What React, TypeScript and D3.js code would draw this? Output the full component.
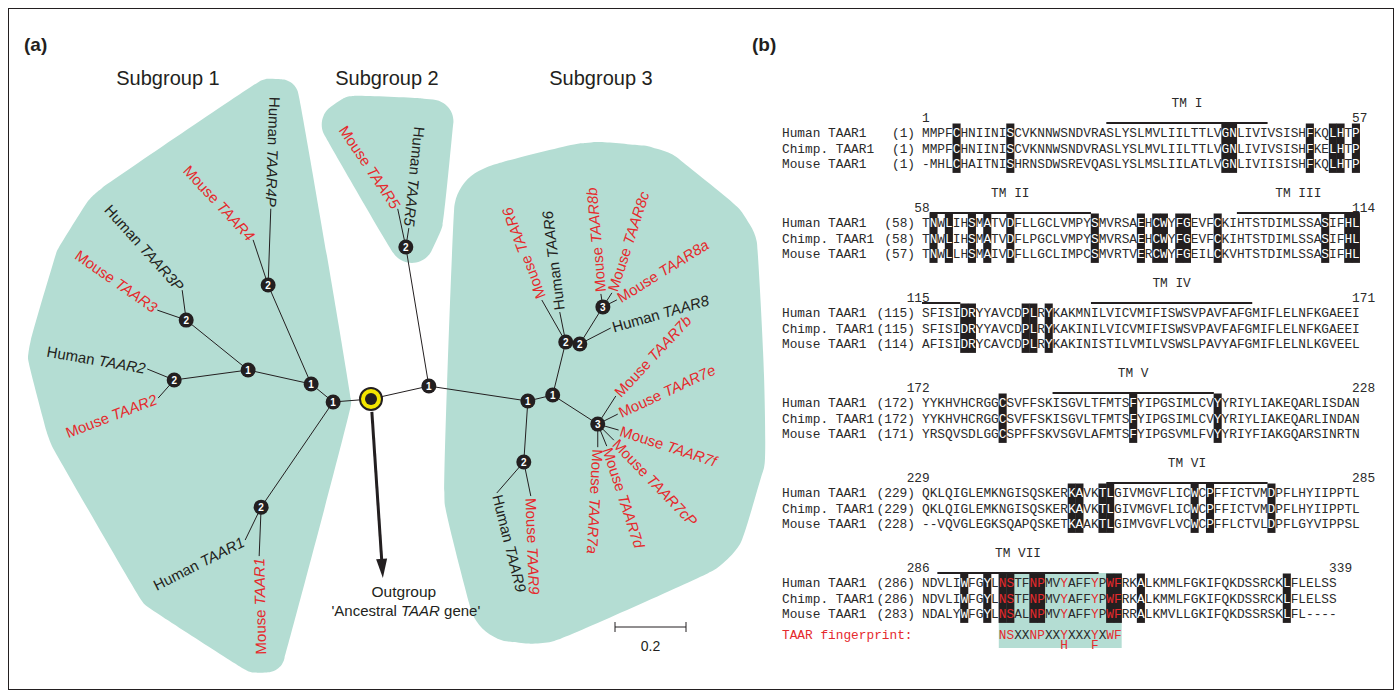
import React from "react";
import * as d3 from "d3";

// ---------- panel (a): TAAR tree ----------
// internal nodes: [id, parent, branch length, direction (deg, clockwise from east), support class]
const treeNodes: [string, string | null, number, number, number | null][] = [
  ["root", null, 0, 0, null],
  ["n1", "root", 0.107, 175.5, 1],
  ["n2", "root", 0.167, -12.6, 1],
  ["a1", "n1", 0.08, -140.7, 1],
  ["tA1", "n1", 0.359, 124.4, 2],
  ["t4", "a1", 0.304, -113.5, 2],
  ["a2", "a1", 0.182, -167.5, 1],
  ["t3", "a2", 0.224, -141.1, 2],
  ["t2", "a2", 0.21, 172.3, 2],
  ["s2", "n2", 0.397, -99.4, 2],
  ["b1", "n2", 0.282, 8.6, 1],
  ["b2", "b1", 0.072, -13.5, 1],
  ["d1", "b1", 0.172, 93.8, 2],
  ["c1", "b2", 0.154, -76.2, 2],
  ["c2", "c1", 0.04, 8.1, 2],
  ["c3", "c2", 0.123, -58.1, 3],
  ["c4", "b2", 0.151, 32.8, 3],
];

// leaves: [species, gene, parent, branch length, direction, label direction, label anchor]
const leaves: [string, string, string, number, number, number, "start" | "end"][] = [
  ["Human", "TAAR4P", "t4", 0.215, -88, 92, "end"],
  ["Mouse", "TAAR4", "t4", 0.134, -108.4, 47, "end"],
  ["Human", "TAAR3P", "t3", 0.085, -97.6, 48, "end"],
  ["Mouse", "TAAR3", "t3", 0.086, -161, 35, "end"],
  ["Human", "TAAR2", "t2", 0.082, -157.8, 10, "end"],
  ["Mouse", "TAAR2", "t2", 0.068, 131.6, -21, "end"],
  ["Human", "TAAR1", "tA1", 0.103, 115.9, -27, "end"],
  ["Mouse", "TAAR1", "tA1", 0.138, 92.3, -91, "end"],
  ["Mouse", "TAAR5", "s2", 0.11, -102, 56, "end"],
  ["Human", "TAAR5", "s2", 0.054, -81, 96, "end"],
  ["Mouse", "TAAR6", "c1", 0.136, -119.7, -111, "start"],
  ["Human", "TAAR6", "c1", 0.086, -101.3, -97, "start"],
  ["Mouse", "TAAR8b", "c3", 0.037, -98.7, -95, "start"],
  ["Mouse", "TAAR8c", "c3", 0.047, -57.3, -72, "start"],
  ["Mouse", "TAAR8a", "c3", 0.044, -26.6, -32, "start"],
  ["Human", "TAAR8", "c2", 0.098, -27.3, -16, "start"],
  ["Mouse", "TAAR7b", "c4", 0.094, -57.3, -47, "start"],
  ["Mouse", "TAAR7e", "c4", 0.063, -26.6, -25, "start"],
  ["Mouse", "TAAR7f", "c4", 0.061, 15.9, 18, "start"],
  ["Mouse", "TAAR7cP", "c4", 0.064, 45, 46, "start"],
  ["Mouse", "TAAR7d", "c4", 0.067, 67.8, 72, "start"],
  ["Mouse", "TAAR7a", "c4", 0.065, 90, 93, "start"],
  ["Mouse", "TAAR9", "d1", 0.098, 78.4, 88, "start"],
  ["Human", "TAAR9", "d1", 0.116, 131, 76, "start"],
];

const subgroupNames = ["Subgroup 1", "Subgroup 2", "Subgroup 3"];
const subgroupRoots = ["n1", "s2", "b1"];
const outgroup = { len: 0.505, ang: 86.2 };
const scaleBarValue = 0.2;

// ---------- panel (b): TAAR1 alignment ----------
const seqNames = ["Human TAAR1", "Chimp. TAAR1", "Mouse TAAR1"];
const blockStarts = [1, 58, 115, 172, 229, 286];
const blockEnds = [57, 114, 171, 228, 285, 339];
const rowStarts = [
  [1, 1, 1],
  [58, 58, 57],
  [115, 115, 114],
  [172, 172, 171],
  [229, 229, 228],
  [286, 286, 283],
];
const humanSeq = [
  "MMPFCHNIINISCVKNNWSNDVRASLYSLMVLIILTTLVGNLIVIVSISHFKQLHTP",
  "TNWLIHSMATVDFLLGCLVMPYSMVRSAEHCWYFGEVFCKIHTSTDIMLSSASIFHL",
  "SFISIDRYYAVCDPLRYKAKMNILVICVMIFISWSVPAVFAFGMIFLELNFKGAEEI",
  "YYKHVHCRGGCSVFFSKISGVLTFMTSFYIPGSIMLCVYYRIYLIAKEQARLISDAN",
  "QKLQIGLEMKNGISQSKERKAVKTLGIVMGVFLICWCPFFICTVMDPFLHYIIPPTL",
  "NDVLIWFGYLNSTFNPMVYAFFYPWFRKALKMMLFGKIFQKDSSRCKLFLELSS",
];
const chimpSeq = [
  "MMPFCHNIINISCVKNNWSNDVRASLYSLMVLIILTTLVGNLIVIVSISHFKELHTP",
  "TNWLIHSMATVDFLPGCLVMPYSMVRSAEHCWYFGEVFCKIHTSTDIMLSSASIFHL",
  "SFISIDRYYAVCDPLRYKAKINILVICVMIFISWSVPAVFAFGMIFLELNFKGAEEI",
  "YYKHVHCRGGCSVFFSKISGVLTFMTSFYIPGSIMLCVYYRIYLIAKEQARLINDAN",
  "QKLQIGLEMKNGISQSKERKAVKTLGIVMGVFLICWCPFFICTVMDPFLHYIIPPTL",
  "NDVLIWFGYLNSTFNPMVYAFFYPWFRKALKMMLFGKIFQKDSSRCKLFLELSS",
];
const mouseSeq = [
  "-MHLCHAITNISHRNSDWSREVQASLYSLMSLIILATLVGNLIVIISISHFKQLHTP",
  "TNWLLHSMAIVDFLLGCLIMPCSMVRTVERCWYFGEILCKVHTSTDIMLSSASIFHL",
  "AFISIDRYCAVCDPLRYKAKINISTILVMILVSWSLPAVYAFGMIFLELNLKGVEEL",
  "YRSQVSDLGGCSPFFSKVSGVLAFMTSFYIPGSVMLFVYYRIYFIAKGQARSINRTN",
  "--VQVGLEGKSQAPQSKETKAAKTLGIMVGVFLVCWCPFFLCTVLDPFLGYVIPPSL",
  "NDALYWFGYLNSALNPMVYAFFYPWFRRALKMVLLGKIFQKDSSRSKLFL----",
];
const tmNames = ["TM I", "TM II", "TM III", "TM IV", "TM V", "TM VI", "TM VII"];
const tmStarts = [25, 59, 99, 137, 189, 253, 288];
const tmEnds = [45, 79, 119, 157, 209, 273, 308];
const conservedCols = [
  5, 12, 40, 41, 51, 54, 55, 57,
  59, 61, 64, 66, 69, 80, 86, 88, 89, 91, 92, 96, 110, 113, 114,
  120, 121, 128, 129, 131,
  182, 199, 210,
  248, 249, 252, 253, 264, 266, 274,
  291, 294, 296, 297, 300, 301, 310, 311, 314, 333,
];
const fingerprintCols = [296, 311];
const fingerprint = "NSXXNPXXYXXXYXWF";
const fingerprintRed = [296, 297, 300, 301, 304, 308, 310, 311];
const variantLetters = ["H", "F"];
const variantCols = [304, 308];

// ---------- styling ----------
const W = 1395;
const H = 691;
const sans = "'Liberation Sans', Arial, sans-serif";
const mono = "'Liberation Mono', 'Courier New', monospace";
const ink = "#231f20";
const red = "#e52a2d";
const teal = "#b4ddd3";
const geneFont = 15;
const titleX = [168, 387, 601];
const blobPad = [18, 22, 47];
const blobShift: [number, number][] = [[0, 0], [6, -6], [0, 2]];

const lenScale = d3.scaleLinear().domain([0, 0.2]).range([0, 71]);
const rootPos: [number, number] = [371, 399];

const cw = 7.68;
const colX = d3.scaleLinear().domain([0, 1]).range([922, 922 + cw]);
const blockY = d3.scaleLinear().domain([0, 5]).range([133, 583]);
const rowGap = 15.2;

type P = [number, number];
const move = (p: P, d: number, ang: number): P => {
  const r = (ang * Math.PI) / 180;
  return [p[0] + d * Math.cos(r), p[1] + d * Math.sin(r)];
};

let ctx: CanvasRenderingContext2D | null = null;
const textW = (s: string, font: string) => {
  if (!ctx) ctx = document.createElement("canvas").getContext("2d");
  if (!ctx) return s.length * 8;
  ctx.font = font;
  return ctx.measureText(s).width;
};

function buildTree() {
  const pos = new Map<string, P>();
  const parentOf = new Map<string, string | null>();
  for (const [id, parent, len, ang] of treeNodes) {
    parentOf.set(id, parent);
    pos.set(id, parent ? move(pos.get(parent)!, lenScale(len), ang) : rootPos);
  }
  const inGroup = (id: string, g: string) => {
    let cur: string | null | undefined = id;
    while (cur) {
      if (cur === g) return true;
      cur = parentOf.get(cur);
    }
    return false;
  };
  const leafItems = leaves.map(([sp, gene, parent, len, ang, lab, anchor]) => {
    const p = pos.get(parent)!;
    const tip = move(p, lenScale(len), ang);
    const w = textW(sp + " ", `${geneFont}px ${sans}`) + textW(gene, `italic ${geneFont}px ${sans}`);
    const at = move(tip, anchor === "start" ? 2 : -2, lab);
    const s = anchor === "start" ? at : move(at, -w, lab);
    const e = move(s, w, lab);
    const corners = [move(s, 6, lab + 90), move(s, -6, lab + 90), move(e, 6, lab + 90), move(e, -6, lab + 90)];
    return { sp, gene, parent, p, tip, at, lab, anchor, corners };
  });
  const blobs = subgroupRoots.map((g, gi) => {
    const pts: P[] = [];
    treeNodes.forEach(([id]) => {
      if (inGroup(id, g)) pts.push(pos.get(id)!);
    });
    leafItems.forEach((l) => {
      if (inGroup(l.parent, g)) pts.push(l.tip, ...l.corners);
    });
    const ring: P[] = [];
    const [sx, sy] = blobShift[gi];
    pts.forEach(([x, y]) => {
      for (let k = 0; k < 32; k++) {
        const a = (k / 32) * Math.PI * 2;
        ring.push([x + sx + blobPad[gi] * Math.cos(a), y + sy + blobPad[gi] * Math.sin(a)]);
      }
    });
    const hull = d3.polygonHull(ring) as P[];
    return d3.line().curve(d3.curveCatmullRomClosed)(hull) || "";
  });
  return { pos, leafItems, blobs };
}

function Tree() {
  const { pos, leafItems, blobs } = React.useMemo(buildTree, []);
  const root = pos.get("root")!;
  const outTip = move(root, lenScale(outgroup.len), outgroup.ang);
  const arrowBase = move(outTip, -17, outgroup.ang);
  const headBase = move(outTip, -19, outgroup.ang);
  const barX0 = 615;
  const barY = 627;
  const barW = lenScale(scaleBarValue);
  return (
    <g>
      {blobs.map((d, i) => (
        <path key={i} d={d} fill={teal} />
      ))}
      {subgroupNames.map((name, i) => (
        <text key={name} x={titleX[i]} y={85} textAnchor="middle" fontFamily={sans} fontSize={20} fill={ink}>
          {name}
        </text>
      ))}
      {treeNodes
        .filter(([, parent]) => parent)
        .map(([id, parent]) => {
          const a = pos.get(parent!)!;
          const b = pos.get(id)!;
          return <line key={id} x1={a[0]} y1={a[1]} x2={b[0]} y2={b[1]} stroke={ink} strokeWidth={1} />;
        })}
      {leafItems.map((l, i) => (
        <line key={i} x1={l.p[0]} y1={l.p[1]} x2={l.tip[0]} y2={l.tip[1]} stroke={ink} strokeWidth={1} />
      ))}
      {leafItems.map((l, i) => (
        <text
          key={i}
          transform={`translate(${l.at[0]},${l.at[1]}) rotate(${l.lab})`}
          textAnchor={l.anchor}
          dy="0.35em"
          fontFamily={sans}
          fontSize={geneFont}
          fill={l.sp === "Mouse" ? red : ink}
        >
          {l.sp + " "}
          <tspan fontStyle="italic">{l.gene}</tspan>
        </text>
      ))}
      {/* outgroup arrow */}
      <line
        x1={move(root, 13, outgroup.ang)[0]}
        y1={move(root, 13, outgroup.ang)[1]}
        x2={arrowBase[0]}
        y2={arrowBase[1]}
        stroke={ink}
        strokeWidth={3}
      />
      <polygon
        points={[outTip, move(headBase, 5.5, outgroup.ang + 90), move(headBase, -5.5, outgroup.ang + 90)]
          .map((p) => p.join(","))
          .join(" ")}
        fill={ink}
      />
      <text x={outTip[0] + 21} y={597} textAnchor="middle" fontFamily={sans} fontSize={15.5} fill={ink}>
        Outgroup
      </text>
      <text x={outTip[0] + 23} y={616} textAnchor="middle" fontFamily={sans} fontSize={15} fill={ink}>
        'Ancestral <tspan fontStyle="italic">TAAR</tspan> gene'
      </text>
      {/* support nodes */}
      {treeNodes
        .filter(([, , , , s]) => s !== null)
        .map(([id, , , , s]) => {
          const p = pos.get(id)!;
          return (
            <g key={id} transform={`translate(${p[0]},${p[1]})`}>
              <circle r={7.5} fill={ink} />
              <text textAnchor="middle" dy="0.36em" fontFamily={sans} fontSize={10} fontWeight="bold" fill="#fff">
                {s}
              </text>
            </g>
          );
        })}
      {/* root */}
      <circle cx={root[0]} cy={root[1]} r={11} fill="#f3e500" stroke={ink} strokeWidth={2} />
      <circle cx={root[0]} cy={root[1]} r={6} fill={ink} />
      {/* scale bar */}
      <g stroke={ink} strokeWidth={1}>
        <line x1={barX0} x2={barX0 + barW} y1={barY} y2={barY} />
        <line x1={barX0} x2={barX0} y1={barY - 5} y2={barY + 5} />
        <line x1={barX0 + barW} x2={barX0 + barW} y1={barY - 5} y2={barY + 5} />
      </g>
      <text x={barX0 + barW / 2} y={651} textAnchor="middle" fontFamily={sans} fontSize={14} fill={ink}>
        {scaleBarValue}
      </text>
    </g>
  );
}

function Alignment() {
  const seqs = [humanSeq, chimpSeq, mouseSeq];
  const letterFill = (col: number) => {
    const isRed = fingerprintRed.includes(col);
    if (conservedCols.includes(col)) return isRed ? red : "#fff";
    return isRed ? red : "#2a2a2a";
  };
  return (
    <g fontFamily={mono} fontSize={12.8}>
      {blockStarts.map((start, b) => {
        const end = blockEnds[b];
        const yc = blockY(b);
        const lx = (col: number) => colX(col - start);
        return (
          <g key={b}>
            {b === 5 && (
              <rect
                x={lx(fingerprintCols[0])}
                y={yc - 10}
                width={lx(fingerprintCols[1] + 1) - lx(fingerprintCols[0])}
                height={75}
                fill={teal}
              />
            )}
            {conservedCols
              .filter((c) => c >= start && c <= end)
              .map((c) => (
                <rect key={c} x={lx(c) - 0.2} y={yc - 9.5} width={cw + 0.4} height={2 * rowGap + 19} fill={ink} />
              ))}
            {tmNames.map((name, t) => {
              const s = Math.max(tmStarts[t], start);
              const e = Math.min(tmEnds[t], end);
              if (s > e) return null;
              const x1 = lx(s);
              const x2 = lx(e + 1);
              return (
                <g key={name}>
                  <line x1={x1} x2={x2} y1={yc - 10} y2={yc - 10} stroke={ink} strokeWidth={2} />
                  {tmStarts[t] >= start && (
                    <text x={(x1 + x2) / 2} y={yc - 25.7} textAnchor="middle" fill="#2a2a2a">
                      {name}
                    </text>
                  )}
                </g>
              );
            })}
            <text x={lx(start + 1)} y={yc - 10.7} textAnchor="end" fill="#2a2a2a">
              {start}
            </text>
            <text x={lx(end)} y={yc - 10.7} fill="#2a2a2a">
              {end}
            </text>
            {seqNames.map((nm, r) => {
              const y = yc + r * rowGap + 4.3;
              const seq = seqs[r][b];
              return (
                <g key={nm}>
                  <text x={782} y={y} fill="#2a2a2a">
                    {nm}
                  </text>
                  <text x={915} y={y} textAnchor="end" fill="#2a2a2a">
                    ({rowStarts[b][r]})
                  </text>
                  {seq.split("").map((ch, i) => (
                    <text key={i} x={colX(i) + cw / 2} y={y} textAnchor="middle" fill={letterFill(start + i)}>
                      {ch}
                    </text>
                  ))}
                </g>
              );
            })}
            {b === 5 && (
              <g>
                <text x={782} y={yc + 52 + 4.3} fill={red}>
                  TAAR fingerprint:
                </text>
                {fingerprint.split("").map((ch, i) => (
                  <text
                    key={i}
                    x={lx(fingerprintCols[0] + i) + cw / 2}
                    y={yc + 52 + 4.3}
                    textAnchor="middle"
                    fill={fingerprintRed.includes(fingerprintCols[0] + i) ? red : "#2a2a2a"}
                  >
                    {ch}
                  </text>
                ))}
                {variantLetters.map((ch, i) => (
                  <text key={ch} x={lx(variantCols[i]) + cw / 2} y={yc + 61.5 + 4.3} textAnchor="middle" fill={red}>
                    {ch}
                  </text>
                ))}
              </g>
            )}
          </g>
        );
      })}
    </g>
  );
}

export default function App() {
  return (
    <svg
      width={W}
      height={H}
      viewBox={`0 0 ${W} ${H}`}
      style={{ position: "absolute", left: 0, top: 0, display: "block", background: "#fff" }}
    >
      <rect x={8.5} y={8.5} width={1385} height={681} fill="#fff" stroke={ink} strokeWidth={1} />
      <text x={24} y={51} fontFamily={sans} fontSize={19} fontWeight="bold" fill={ink}>
        (a)
      </text>
      <text x={752} y={51} fontFamily={sans} fontSize={19} fontWeight="bold" fill={ink}>
        (b)
      </text>
      <Tree />
      <Alignment />
    </svg>
  );
}
